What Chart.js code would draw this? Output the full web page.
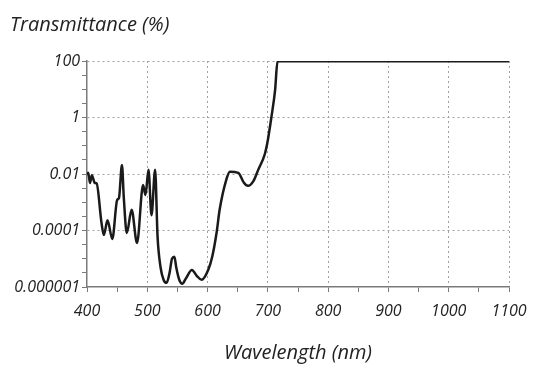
<!DOCTYPE html>
<html>
<head>
<meta charset="utf-8">
<script src="https://cdn.jsdelivr.net/npm/chart.js@4/dist/chart.umd.min.js"></script>
<style>
  html, body { margin: 0; padding: 0; background: #fff; }
  #wrap { width: 541px; height: 367px; }
</style>
</head>
<body>
<div id="wrap"><canvas id="transChart" width="541" height="367"></canvas></div>
<script>
// wavelength in nm
let wavelengths = [
    400, 402, 405, 408, 413, 416, 424, 428, 434, 442,
    450, 453, 458, 461, 466, 474, 483, 493, 497, 502,
    507, 513, 517, 522, 527, 532, 537, 541, 545, 548,
    553, 558, 564, 574, 582, 590, 601, 608, 615, 620,
    631, 637, 651, 660, 667, 676, 684, 695, 700, 706,
    712, 716, 720, 800, 900, 1000, 1100
];
// transmittance in %
let transmittance = [
    0.0091, 0.011, 0.0048, 0.0091, 0.0048, 0.0046, 0.00019, 0.000069, 0.00023, 0.00005,
    0.0012, 0.0014, 0.021, 0.0015, 0.000081, 0.00054, 0.000036, 0.0041, 0.0018, 0.014,
    0.00035, 0.014, 0.000063, 0.000005, 0.0000018, 0.0000014, 0.0000032, 0.00001, 0.0000118, 0.000005,
    0.0000018, 0.0000013, 0.000002, 0.000004, 0.0000025, 0.0000018, 0.000004, 0.0000126, 0.000085, 0.00054,
    0.0062, 0.012, 0.011, 0.005, 0.0038, 0.0056, 0.014, 0.051, 0.16, 1.07,
    9.3, 97, 98, 98, 98, 98, 98
];
let xTicks = [400, 500, 600, 700, 800, 900, 1000, 1100];
let yTicks = [0.000001, 0.0001, 0.01, 1, 100];

let points = wavelengths.map((w, i) => ({x: w, y: transmittance[i]}));

let labelFont = {family: 'Open Sans', size: 16, style: 'italic'};
let gridGrey = '#a0a0a0';
let axisGrey = '#7a7a7a';
let textCol = '#222';

let ctx = document.getElementById('transChart').getContext('2d');

let transChart = new Chart(ctx, {
    type: 'line',
    data: {
        datasets: [{
            label: 'Transmittance',
            data: points,
            borderColor: '#1a1a1a',
            borderWidth: 2.5,
            pointRadius: 0,
            cubicInterpolationMode: 'monotone',
            fill: false
        }]
    },
    options: {
        responsive: false,
        animation: false,
        layout: {padding: {left: 10, right: 32, top: 0, bottom: 0}},
        plugins: {
            legend: {display: false},
            tooltip: {enabled: false},
            title: {
                display: true,
                text: 'Transmittance (%)',
                align: 'start',
                color: textCol,
                font: {family: 'Open Sans', size: 20, style: 'italic', weight: 'normal', lineHeight: 1.2},
                padding: {top: 13, bottom: 24}
            }
        },
        scales: {
            x: {
                type: 'linear',
                min: 400,
                max: 1100,
                afterBuildTicks: (scale) => {
                    let t = [];
                    for (let v = 400; v <= 1100; v += 50) t.push({value: v});
                    scale.ticks = t;
                },
                afterFit: (scale) => { scale.height = 80; },
                ticks: {
                    autoSkip: false,
                    maxRotation: 0,
                    color: textCol,
                    font: labelFont,
                    padding: 10,
                    callback: (v) => xTicks.includes(v) ? String(v) : ''
                },
                grid: {
                    color: (c) => (c.tick && xTicks.includes(c.tick.value) && c.tick.value !== 400) ? gridGrey : 'rgba(0,0,0,0)',
                    tickColor: axisGrey,
                    tickLength: 5,
                    lineWidth: 1
                },
                border: {color: axisGrey, width: 1.5, dash: [2, 3]},
                title: {
                    display: true,
                    text: 'Wavelength (nm)',
                    color: textCol,
                    font: {family: 'Open Sans', size: 20, style: 'italic', lineHeight: 1.2},
                    padding: {top: 0, bottom: 2}
                }
            },
            y: {
                type: 'logarithmic',
                min: 0.000001,
                max: 100,
                afterBuildTicks: (scale) => {
                    let t = [];
                    for (let e = -6; e <= 2; e += 0.5) t.push({value: Math.pow(10, e)});
                    scale.ticks = t;
                },
                afterFit: (scale) => { scale.width = 77; },
                ticks: {
                    autoSkip: false,
                    color: textCol,
                    font: labelFont,
                    padding: 2,
                    callback: (v) => {
                        let hit = yTicks.find(t => Math.abs(Math.log10(t) - Math.log10(v)) < 0.01);
                        if (hit === undefined) return '';
                        let e = Math.round(Math.log10(hit));
                        return hit >= 1 ? String(hit) : hit.toFixed(-e);
                    }
                },
                grid: {
                    color: (c) => {
                        if (!c.tick) return 'rgba(0,0,0,0)';
                        let v = c.tick.value;
                        let major = yTicks.some(t => Math.abs(Math.log10(t) - Math.log10(v)) < 0.01);
                        return (major && v > 0.0000011) ? gridGrey : 'rgba(0,0,0,0)';
                    },
                    tickColor: axisGrey,
                    tickLength: 5,
                    lineWidth: 1
                },
                border: {color: axisGrey, width: 1.5, dash: [2, 3]}
            }
        }
    }
});
</script>
</body>
</html>
